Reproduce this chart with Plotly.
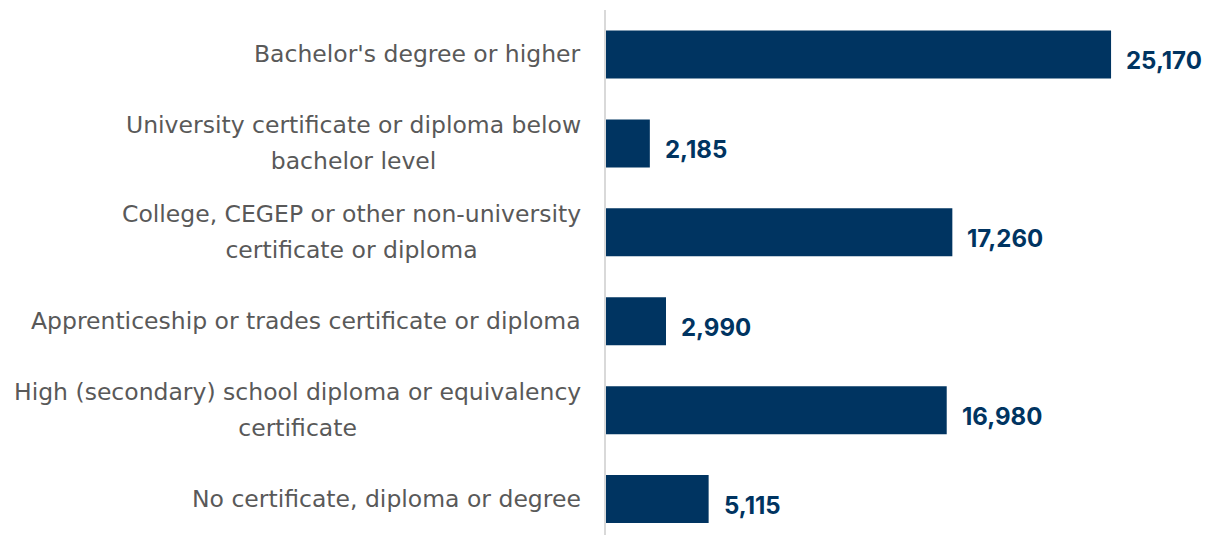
import plotly.graph_objects as go

categories = [
    "Bachelor's degree or higher",
    "University certificate or diploma below<br>bachelor level",
    "College, CEGEP or other non-university<br>certificate or diploma",
    "Apprenticeship or trades certificate or diploma",
    "High (secondary) school diploma or equivalency<br>certificate",
    "No certificate, diploma or degree",
]
values = [25170, 2185, 17260, 2990, 16980, 5115]
value_labels = ["25,170", "2,185", "17,260", "2,990", "16,980", "5,115"]

BAR = "#003461"
LABEL = "#595959"
LABEL_PX = 23.5        # rendered size of category text
LINE_PX = 36           # distance between wrapped lines

fig = go.Figure(go.Bar(
    x=values, y=categories, orientation="h",
    marker=dict(color=BAR, line=dict(width=0)),
    hoverinfo="skip",
))

annotations = []
for cat, v, lab in zip(categories, values, value_labels):
    annotations.append(dict(
        x=v, y=cat, xref="x", yref="y", text=lab, showarrow=False,
        xanchor="left", yanchor="middle", xshift=13, yshift=-6,
        font=dict(family="Inter", size=24, color=BAR, weight="bold"),
    ))
    lines = cat.split("<br>")
    txt = "<br>".join(f"<span style='font-size:{LABEL_PX}px'>{ln}</span>" for ln in lines)
    annotations.append(dict(
        x=0, y=cat, xref="paper", yref="y", showarrow=False, text=txt,
        xanchor="right", yanchor="middle", align="center", xshift=-23,
        font=dict(family="DejaVu Sans", size=LINE_PX / 1.3, color=LABEL),
    ))

fig.update_layout(
    width=1216, height=535,
    margin=dict(l=598, r=8, t=2, b=8),
    plot_bgcolor="white", paper_bgcolor="white",
    bargap=0.46, showlegend=False,
    xaxis=dict(range=[0, 30400], visible=False, fixedrange=True),
    yaxis=dict(categoryorder="array", categoryarray=categories,
               range=[5.404, -0.5], showticklabels=False, ticks="",
               showgrid=False, zeroline=False,
               showline=True, linecolor="#d9d9d9", linewidth=1.5),
    annotations=annotations,
)

fig.write_html("out.html")
